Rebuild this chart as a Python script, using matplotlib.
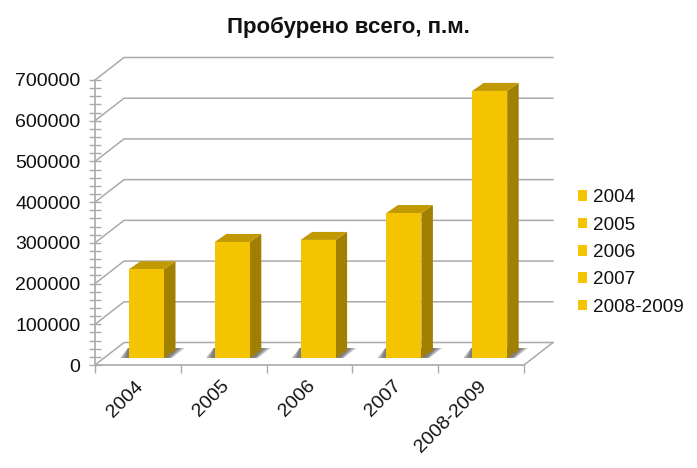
import matplotlib
matplotlib.use("Agg")
import matplotlib.pyplot as plt
from matplotlib.patches import Patch, Polygon

plt.rcParams['font.family'] = ['Liberation Sans', 'DejaVu Sans']

categories = ['2004', '2005', '2006', '2007', '2008-2009']
values = [218000, 285000, 290000, 356000, 656000]
y_ticks = [0, 100000, 200000, 300000, 400000, 500000, 600000, 700000]

W, H = 697, 468
LEFT, RIGHT, TOP, BOTTOM = 95, 524, 80, 365

FRONT = '#f5c400'
TOP_C = '#c09a00'
SIDE = '#a17f00'
GRID = '#aaaaaa'

fig = plt.figure(figsize=(W / 100, H / 100), dpi=100, facecolor='white')
ax = fig.add_axes([LEFT / W, 1 - BOTTOM / H, (RIGHT - LEFT) / W, (BOTTOM - TOP) / H])
ax.set_xlim(0, len(categories))
ax.set_ylim(0, 700000)
ax.patch.set_visible(False)

# px -> data units, for the fake 3d depth
px_x = len(categories) / (RIGHT - LEFT)
px_y = 700000 / (BOTTOM - TOP)
wall_dx = 29 * px_x
wall_dy = 22.5 * px_y
bar_w = 35 * px_x
bar_dx = 11.5 * px_x
bar_dy = 8 * px_y
off_x = 8.6 * px_x
off_y = 7 * px_y

# walls and floor
for v in y_ticks:
    ax.plot([0, wall_dx, len(categories) + wall_dx], [v, v + wall_dy, v + wall_dy],
            color=GRID, lw=1.1, clip_on=False, zorder=1)
n = len(categories)
ax.plot([n, n + wall_dx], [0, wall_dy], color=GRID, lw=1.1, clip_on=False, zorder=1)

for i, v in enumerate(values):
    x0 = i + 0.5 + off_x - bar_w / 2
    x1 = x0 + bar_w
    # soft shadow on the floor, a few layers from light to dark
    for left, low, high, shade in [(9, 8, 21, '#d2d2d2'), (8, 7, 19, '#b0b0b0'), (6, 6, 17, '#969696'), (4, 5, 15, '#808080')]:
        ax.add_patch(Polygon([(x0 - left * px_x, off_y), (x1 + low * px_x, off_y),
                              (x1 + high * px_x, off_y + 10 * px_y),
                              (x0 - px_x, off_y + 10 * px_y)],
                             closed=True, fc=shade, ec='none', clip_on=False, zorder=2))
    ax.bar(x0, v, width=bar_w, bottom=off_y, align='edge', color=FRONT, zorder=4, clip_on=False)
    top = v + off_y
    ax.add_patch(Polygon([(x1, off_y), (x1 + bar_dx, off_y + bar_dy), (x1 + bar_dx, top + bar_dy), (x1, top)],
                         closed=True, fc=SIDE, ec='none', clip_on=False, zorder=3))
    ax.add_patch(Polygon([(x0, top), (x1, top), (x1 + bar_dx, top + bar_dy), (x0 + bar_dx, top + bar_dy)],
                         closed=True, fc=TOP_C, ec='none', clip_on=False, zorder=3))

for s in ['top', 'right']:
    ax.spines[s].set_visible(False)
for s in ['left', 'bottom']:
    ax.spines[s].set_color(GRID)
    ax.spines[s].set_linewidth(1.2)

ax.set_yticks(y_ticks)
ax.set_yticks(range(0, 700001, 20000), minor=True)
ax.tick_params(axis='y', which='both', direction='inout', length=9, width=1, color=GRID,
               labelsize=14, pad=6, labelcolor='#111111')
ax.set_xticks(range(n + 1))
ax.set_xticklabels([])
ax.tick_params(axis='x', direction='out', length=6, width=1, color=GRID)

for i, c in enumerate(categories):
    ax.annotate(c, xy=(i + 0.5, 0), xytext=(-2, -9), textcoords='offset points', rotation=45,
                ha='right', va='top', rotation_mode='anchor', fontsize=14, color='#111111',
                annotation_clip=False)

handles = [Patch(fc=FRONT, ec='none') for _ in categories]
fig.legend(handles, categories, loc='center left', bbox_to_anchor=(578 / W, 1 - 252.5 / H), frameon=False,
           fontsize=13.6, handlelength=0.5, handleheight=0.5, handletextpad=0.3,
           labelspacing=0.55, labelcolor='#111111', borderpad=0, borderaxespad=0)

fig.text(348 / W, 1 - 27 / H, 'Пробурено всего, п.м.', ha='center', va='center',
         fontsize=16, fontweight='bold', color='#111111')

fig.savefig('out.png', dpi=100)
